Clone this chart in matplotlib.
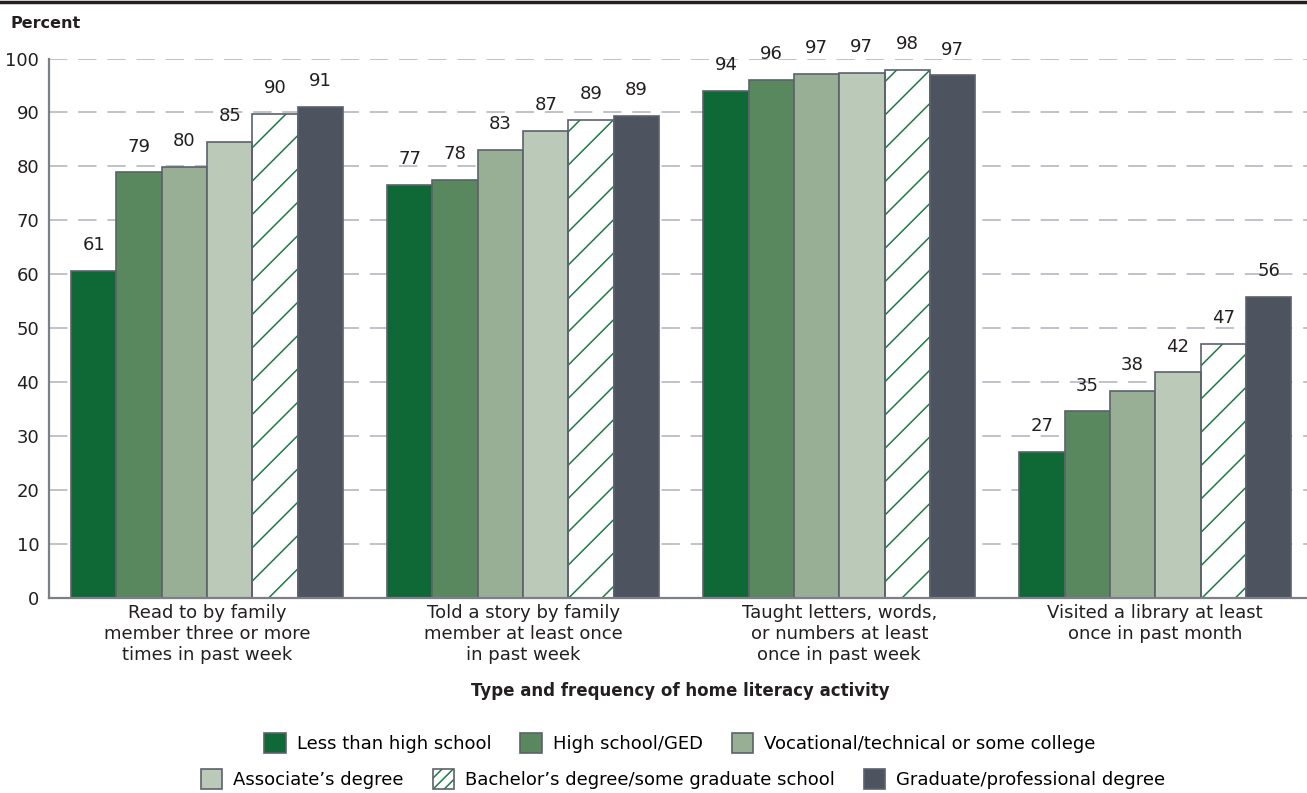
import numpy as np
import matplotlib
matplotlib.use("Agg")
import matplotlib.pyplot as plt
from matplotlib.patches import Patch
from matplotlib.legend_handler import HandlerTuple

plt.rcParams['font.family'] = ['DejaVu Sans']
plt.rcParams['hatch.linewidth'] = 1.1

activities = [
    "Read to by family\nmember three or more\ntimes in past week",
    "Told a story by family\nmember at least once\nin past week",
    "Taught letters, words,\nor numbers at least\nonce in past week",
    "Visited a library at least\nonce in past month",
]

education = [
    "Less than high school",
    "High school/GED",
    "Vocational/technical or some college",
    "Associate\u2019s degree",
    "Bachelor\u2019s degree/some graduate school",
    "Graduate/professional degree",
]

# percent of children, one list per education level (across the 4 activities)
less_than_hs = [60.6, 76.6, 94.0, 27.1]
high_school = [78.9, 77.5, 96.1, 34.6]
vocational = [79.9, 83.1, 97.2, 38.4]
associate = [84.6, 86.6, 97.3, 41.8]
bachelor = [89.8, 88.6, 97.9, 47.1]
graduate = [91.1, 89.4, 96.9, 55.8]

series = [less_than_hs, high_school, vocational, associate, bachelor, graduate]
colors = ["#0e6936", "#5a885e", "#98af95", "#bbc9b8", "white", "#4d535f"]
hatch_idx = 4
hatch_color = "#1f7a45"
edge = "#5c616b"

fig = plt.figure(figsize=(13.07, 7.93), dpi=100)
ax = fig.add_axes([49/1307, 1 - 598/793, 1 - 49/1307, (598 - 58.5)/793])

x = np.arange(len(activities))
w = 0.1434
n = len(series)

for i, vals in enumerate(series):
    pos = x + (i - (n - 1)/2)*w
    if i == hatch_idx:
        ax.bar(pos, vals, w, color="white", edgecolor=hatch_color, hatch="/",
               linewidth=0, zorder=2)
        ax.bar(pos, vals, w, fill=False, edgecolor=edge, linewidth=1.2, zorder=3)
    else:
        ax.bar(pos, vals, w, color=colors[i], edgecolor=edge, linewidth=1.2, zorder=3)
    for px, v in zip(pos, vals):
        ax.annotate(f"{v:.0f}", (px, v), xytext=(0, 12), textcoords="offset points",
                    ha="center", va="bottom", fontsize=13, color="#231f20")

ax.set_xlim(-0.5, 3.48)
ax.set_ylim(0, 100)
ax.set_yticks(range(0, 101, 10))
ax.set_xticks(x)
ax.set_xticklabels(activities, fontsize=13, linespacing=1.22, color="#231f20")
ax.tick_params(axis="both", length=0, labelsize=13, colors="#231f20")
ax.tick_params(axis="y", pad=7)
ax.tick_params(axis="x", pad=4)

for yv in range(10, 101, 10):
    ax.axhline(yv, color="#b4b7bf", linewidth=1.2, dashes=(11, 6.5), zorder=1)

for s in ["top", "right"]:
    ax.spines[s].set_visible(False)
for s in ["left", "bottom"]:
    ax.spines[s].set_color("#7b7f88")
    ax.spines[s].set_linewidth(1.6)
    ax.spines[s].set_zorder(4)

# header rule and labels
fig.add_artist(plt.Line2D([0, 1], [1 - 1.5/793, 1 - 1.5/793], color="#231f20",
                          linewidth=2.5, transform=fig.transFigure))
fig.text(10/1307, 1 - 24/793, "Percent", fontsize=11.5, fontweight="bold",
         ha="left", va="center", color="#231f20")
fig.text(680/1307, 1 - 691/793, "Type and frequency of home literacy activity",
         fontsize=12, fontweight="bold", ha="center", va="center", color="#231f20")

handles = []
for i, lab in enumerate(education):
    if i == hatch_idx:
        h = (Patch(facecolor="white", edgecolor=hatch_color, hatch="///", linewidth=0),
             Patch(fill=False, edgecolor=edge, linewidth=1.2))
    else:
        h = Patch(facecolor=colors[i], edgecolor=edge, linewidth=1.2)
    handles.append(h)

for row, yc, xc in [(0, 1 - 743/793, 680/1307), (1, 1 - 779/793, 683/1307)]:
    hs = handles[row*3:row*3 + 3]
    ls = education[row*3:row*3 + 3]
    fig.legend(hs, ls, loc="center", bbox_to_anchor=(xc, yc), ncol=3, frameon=False,
               fontsize=13, handlelength=1.2, handleheight=1.35, handletextpad=0.6,
               columnspacing=1.6, borderpad=0, borderaxespad=0,
               handler_map={tuple: HandlerTuple(ndivide=1, pad=0)})

fig.savefig("out.png", dpi=100)
